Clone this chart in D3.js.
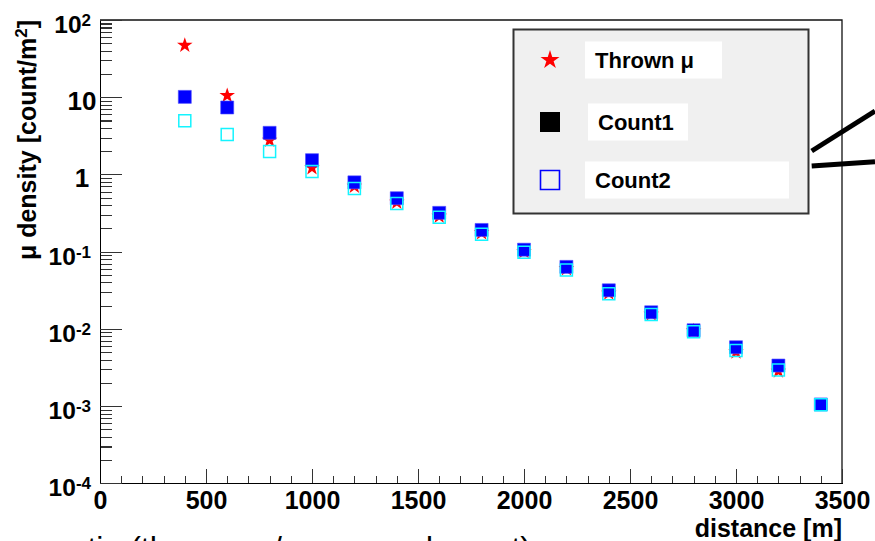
<!DOCTYPE html>
<html>
<head>
<meta charset="utf-8">
<script src="https://cdn.jsdelivr.net/npm/d3@7"></script>
<style>
    body { margin: 0; background: #fff; }
    svg { display: block; font-family: "Liberation Sans", Arial, sans-serif; }
</style>
</head>
<body>
<div id="chart"></div>
<script>
// values (distance in m, density in count/m^2)
var distance = [400, 600, 800, 1000, 1200, 1400, 1600, 1800, 2000, 2200, 2400, 2600, 2800, 3000, 3200, 3400];
var thrown = [47, 10.5, 2.77, 1.22, 0.70, 0.436, 0.287, 0.175, 0.100, 0.060, 0.029, 0.0155, 0.0094, 0.0050, 0.00283];
var count1 = [10.1, 7.36, 3.46, 1.53, 0.79, 0.492, 0.318, 0.191, 0.106, 0.0635, 0.0316, 0.0164, 0.0096, 0.00578, 0.00335, 0.00105];
var count2 = [4.94, 3.29, 1.98, 1.09, 0.656, 0.42, 0.279, 0.168, 0.098, 0.058, 0.0286, 0.0153, 0.0092, 0.00524, 0.00294, 0.00104];
var seriesNames = ["Thrown \u03bc", "Count1", "Count2"];
var xTicks = [0, 500, 1000, 1500, 2000, 2500, 3000, 3500];
var yDecades = [1e-4, 1e-3, 1e-2, 1e-1, 1, 10, 100];

var W = 875, H = 541;
var margin = { top: 20, right: 33, bottom: 57.7, left: 100 };

var x = d3.scaleLinear().domain([0, 3500]).range([margin.left, W - margin.right]);
var y = d3.scaleLog().domain([1e-4, 1e2]).range([H - margin.bottom, margin.top]);

var svg = d3.select("#chart").append("svg")
    .attr("width", W)
    .attr("height", H);

// frame (top + right)
svg.append("path")
    .attr("d", "M" + x(0) + "," + y(100) + "H" + x(3500) + "V" + y(1e-4))
    .style("fill", "none")
    .style("stroke", "#111")
    .style("stroke-width", 1.3);

// x axis: minor every 100, major every 500
var xMinor = d3.range(0, 3501, 100);
svg.append("g")
    .attr("class", "x axis minor")
    .attr("transform", "translate(0," + y(1e-4) + ")")
    .call(d3.axisBottom(x).tickValues(xMinor).tickSizeInner(-7.3).tickSizeOuter(0).tickFormat(""));

var xAx = svg.append("g")
    .attr("class", "x axis major")
    .attr("transform", "translate(0," + y(1e-4) + ")")
    .call(d3.axisBottom(x).tickValues(xTicks).tickSizeInner(-14).tickSizeOuter(0).tickFormat(d3.format("d")));

xAx.selectAll(".tick text")
    .attr("y", 25.7)
    .attr("dy", null)
    .style("font-size", "25px")
    .style("font-weight", "bold")
    .style("fill", "#000");

// y axis: minor 2..9 per decade, major at decades
var yMinor = [];
yDecades.slice(0, -1).forEach(function (d) {
    for (var k = 2; k <= 9; k++) yMinor.push(d * k);
});

svg.append("g")
    .attr("class", "y axis minor")
    .attr("transform", "translate(" + x(0) + ",0)")
    .call(d3.axisLeft(y).tickValues(yMinor).tickSizeInner(-11.7).tickSizeOuter(0).tickFormat(""));

var yAx = svg.append("g")
    .attr("class", "y axis major")
    .attr("transform", "translate(" + x(0) + ",0)")
    .call(d3.axisLeft(y).tickValues(yDecades).tickSizeInner(-22).tickSizeOuter(0).tickFormat(""));

yAx.selectAll(".tick").each(function (d) {
    var g = d3.select(this);
    g.select("text").remove();
    var e = Math.round(Math.log10(d));
    if (e === 0 || e === 1) {
        g.append("text")
            .attr("x", -18)
            .attr("y", 12)
            .style("text-anchor", "middle")
            .style("font-size", "26px")
            .style("font-weight", "bold")
            .style("fill", "#000")
            .text(String(d));
    } else {
        var t = g.append("text")
            .attr("x", -9)
            .attr("y", 12.5)
            .style("text-anchor", "end")
            .style("font-weight", "bold")
            .style("fill", "#000");
        t.append("tspan").style("font-size", "24.5px").text("10");
        t.append("tspan").style("font-size", "17px").attr("dy", -7).text(String(e));
    }
});

d3.selectAll(".axis path")
    .style("fill", "none")
    .style("stroke", "#000")
    .style("stroke-width", 1.2)
    .style("shape-rendering", "crispEdges");

d3.selectAll(".axis line")
    .style("fill", "none")
    .style("stroke", "#333")
    .style("stroke-width", 1.1)
    .style("shape-rendering", "crispEdges");

// axis titles
svg.append("text")
    .attr("x", x(3500))
    .attr("y", 537)
    .style("text-anchor", "end")
    .style("font-size", "25px")
    .style("font-weight", "bold")
    .text("distance [m]");

var yTitle = svg.append("text")
    .attr("transform", "translate(36," + y(100) + ") rotate(-90)")
    .style("text-anchor", "end")
    .style("font-size", "25px")
    .style("font-weight", "bold");
yTitle.append("tspan").text("\u03bc density [count/m");
yTitle.append("tspan").attr("dy", -9).style("font-size", "17px").text("2");
yTitle.append("tspan").attr("dy", 9).text("]");

// data markers
var star = d3.symbol().type(d3.symbolStar);
var square = d3.symbol().type(d3.symbolSquare);

svg.append("g").attr("class", "thrown")
    .selectAll("path")
    .data(thrown)
    .enter().append("path")
    .attr("transform", function (d, i) { return "translate(" + x(distance[i]) + "," + y(d) + ")"; })
    .attr("d", star.size(75))
    .style("fill", "#ff0000");

svg.append("g").attr("class", "count1")
    .selectAll("path")
    .data(count1)
    .enter().append("path")
    .attr("transform", function (d, i) { return "translate(" + x(distance[i]) + "," + y(d) + ")"; })
    .attr("d", square.size(169))
    .style("fill", "#0000ff")
    .style("stroke", "#4d4dff")
    .style("stroke-width", 0.6);

svg.append("g").attr("class", "count2")
    .selectAll("path")
    .data(count2)
    .enter().append("path")
    .attr("transform", function (d, i) { return "translate(" + x(distance[i]) + "," + y(d) + ")"; })
    .attr("d", square.size(144))
    .style("fill", "none")
    .style("stroke", "#14f4ff")
    .style("stroke-width", 1.5);

// pointer lines coming out of the legend
svg.append("g").attr("class", "pointer")
    .selectAll("line")
    .data([[811.7, 151, 875, 111], [811.7, 166, 875, 161.7]])
    .enter().append("line")
    .attr("x1", function (d) { return d[0]; })
    .attr("y1", function (d) { return d[1]; })
    .attr("x2", function (d) { return d[2]; })
    .attr("y2", function (d) { return d[3]; })
    .style("stroke", "#000")
    .style("stroke-width", 5);

// legend
var legend = svg.append("g").attr("class", "legendbox");
legend.append("rect")
    .attr("x", 513.5)
    .attr("y", 29.5)
    .attr("width", 295)
    .attr("height", 184)
    .style("fill", "#f0f0f0")
    .style("stroke", "#333")
    .style("stroke-width", 2);

var legendRows = [
    { cy: 60, boxX: 585, boxW: 137, textX: 595 },
    { cy: 122, boxX: 588, boxW: 100, textX: 598 },
    { cy: 180, boxX: 585, boxW: 204, textX: 595 }
];

var item = legend.selectAll(".legend")
    .data(seriesNames)
    .enter().append("g")
    .attr("class", "legend");

item.append("rect")
    .attr("x", function (d, i) { return legendRows[i].boxX; })
    .attr("y", function (d, i) { return legendRows[i].cy - 18.5; })
    .attr("width", function (d, i) { return legendRows[i].boxW; })
    .attr("height", 37)
    .style("fill", "#fff");

item.append("text")
    .attr("x", function (d, i) { return legendRows[i].textX; })
    .attr("y", function (d, i) { return legendRows[i].cy + 8; })
    .style("font-size", "22px")
    .style("font-weight", "bold")
    .text(function (d) { return d; });

item.append("path")
    .attr("transform", function (d, i) { return "translate(550," + legendRows[i].cy + ")"; })
    .attr("d", function (d, i) {
        return i === 0 ? star.size(112)() : square.size(i === 1 ? 400 : 361)();
    })
    .style("fill", function (d, i) { return i === 0 ? "#ff0000" : i === 1 ? "#000" : "none"; })
    .style("stroke", function (d, i) { return i === 2 ? "#0000ff" : "none"; })
    .style("stroke-width", 1.6);

// caption of the next figure, cut off at the bottom edge
svg.append("text")
    .attr("x", 59)
    .attr("y", 559)
    .style("font-size", "32px")
    .text("ratio (thrown \u03bc / measured count)");
</script>
</body>
</html>
